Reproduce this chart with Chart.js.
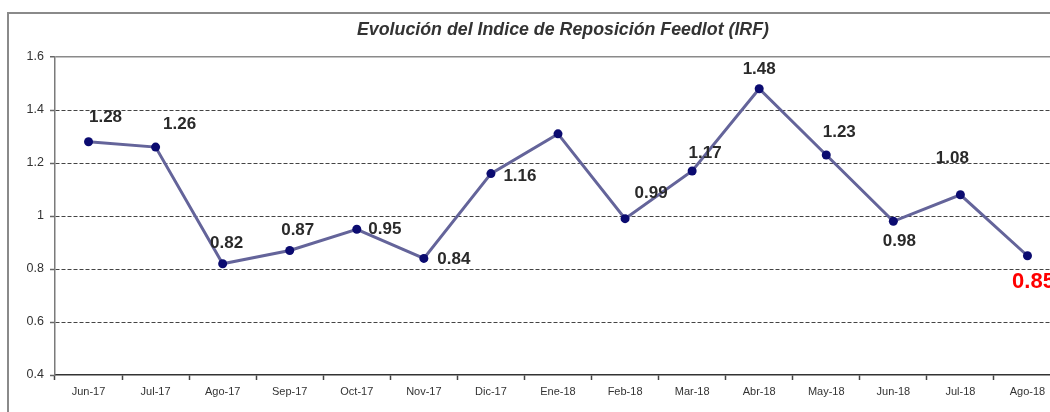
<!DOCTYPE html>
<html>
<head>
<meta charset="utf-8">
<script src="https://cdn.jsdelivr.net/npm/chart.js@4"></script>
<style>
  html, body { margin: 0; padding: 0; background: #fff; overflow: hidden; }
  #wrap { position: absolute; left: 0; top: 0; width: 1066px; height: 412px; }
  #frame { position: absolute; left: 7px; top: 12px; width: 1100px; height: 420px;
           border-left: 2px solid #8a8a8a; border-top: 2px solid #8a8a8a; box-sizing: border-box; }
  canvas { position: absolute; left: 0; top: 0; }
</style>
</head>
<body>
<div id="wrap">
  <div id="frame"></div>
  <canvas id="irfChart" width="1066" height="412"></canvas>
</div>
<script>
// data
const chartTitle = 'Evolución del Indice de Reposición Feedlot (IRF)';
const months = ["Jun-17", "Jul-17", "Ago-17", "Sep-17", "Oct-17", "Nov-17", "Dic-17", "Ene-18",
                "Feb-18", "Mar-18", "Abr-18", "May-18", "Jun-18", "Jul-18", "Ago-18"];
const irfValues = [1.28, 1.26, 0.82, 0.87, 0.95, 0.84, 1.16, 1.31, 0.99, 1.17, 1.48, 1.23, 0.98, 1.08, 0.85];
const yTicks = [0.4, 0.6, 0.8, 1, 1.2, 1.4, 1.6];

// where each value label sits relative to its point (null = no label)
const labelOffsets = [[17, -24], [24, -23], [4, -20], [8, -20], [28, 0], [30, 1], [29, 3], null,
                      [26, -25], [13, -18], [0, -19], [13, -23], [6, 20], [-8, -36], [6, 26]];

// title sits off-centre in the cropped original, so draw it ourselves
const titleText = {
    id: 'titleText',
    afterDraw(chart) {
        const ctx = chart.ctx;
        ctx.save();
        ctx.font = 'italic bold 17.8px "Liberation Sans", Arial, sans-serif';
        ctx.fillStyle = '#333';
        ctx.textAlign = 'center';
        ctx.textBaseline = 'middle';
        ctx.fillText(chartTitle, 563, 30);
        ctx.restore();
    }
};

const valueLabels = {
    id: 'valueLabels',
    afterDatasetsDraw(chart) {
        const ctx = chart.ctx;
        const pts = chart.getDatasetMeta(0).data;
        ctx.save();
        ctx.textAlign = 'center';
        ctx.textBaseline = 'middle';
        pts.forEach((p, i) => {
            const off = labelOffsets[i];
            if (!off) return;
            const last = i === pts.length - 1;
            ctx.font = last ? 'bold 22px "Liberation Sans", Arial, sans-serif'
                            : 'bold 17px "Liberation Sans", Arial, sans-serif';
            ctx.fillStyle = last ? '#ff0000' : '#2a2a2a';
            ctx.fillText(irfValues[i].toFixed(2), p.x + off[0], p.y + off[1]);
        });
        ctx.restore();
    }
};

const ctx = document.getElementById('irfChart').getContext('2d');
new Chart(ctx, {
    type: 'line',
    data: {
        labels: months,
        datasets: [{
            label: 'IRF',
            data: irfValues,
            borderColor: '#64649a',
            borderWidth: 3,
            pointBackgroundColor: '#0b0b70',
            pointBorderWidth: 0,
            pointRadius: 4.5,
            tension: 0
        }]
    },
    options: {
        responsive: false,
        animation: false,
        devicePixelRatio: 1,
        layout: { padding: { left: 0, right: 5, top: 57, bottom: 0 } },
        plugins: {
            legend: { display: false },
            tooltip: { enabled: false },
            title: { display: false }
        },
        scales: {
            x: {
                offset: true,
                grid: {
                    offset: true,
                    drawOnChartArea: false,
                    tickLength: 5,
                    tickColor: '#444',
                    tickWidth: 1.5
                },
                border: { color: '#333', width: 1.5 },
                ticks: {
                    color: '#333',
                    padding: 5,
                    maxRotation: 0,
                    autoSkip: false,
                    font: { family: '"Liberation Sans", Arial, sans-serif', size: 11 }
                },
                afterFit: s => { s.height = 37; }
            },
            y: {
                min: 0.4,
                max: 1.6,
                afterBuildTicks: s => { s.ticks = yTicks.map(v => ({ value: v })); },
                grid: {
                    color: c => (c.tick && c.tick.value === 1.6) ? '#8a8a8a' : (c.tick && c.tick.value === 0.4 ? 'rgba(0,0,0,0)' : '#444'),
                    lineWidth: c => (c.tick && c.tick.value === 1.6) ? 1.5 : 1,
                    tickLength: 5,
                    tickColor: '#666',
                    tickWidth: 1.5
                },
                border: {
                    color: '#7a7a7a',
                    width: 1.5,
                    dash: c => (c.tick && c.tick.value === 1.6) ? [] : [4, 2]
                },
                ticks: {
                    color: '#333',
                    padding: 6,
                    callback: v => String(Math.round(v * 10) / 10),
                    font: { family: '"Liberation Sans", Arial, sans-serif', size: 12.5 }
                },
                afterFit: s => { s.width = 55; }
            }
        }
    },
    plugins: [valueLabels, titleText]
});
</script>
</body>
</html>
